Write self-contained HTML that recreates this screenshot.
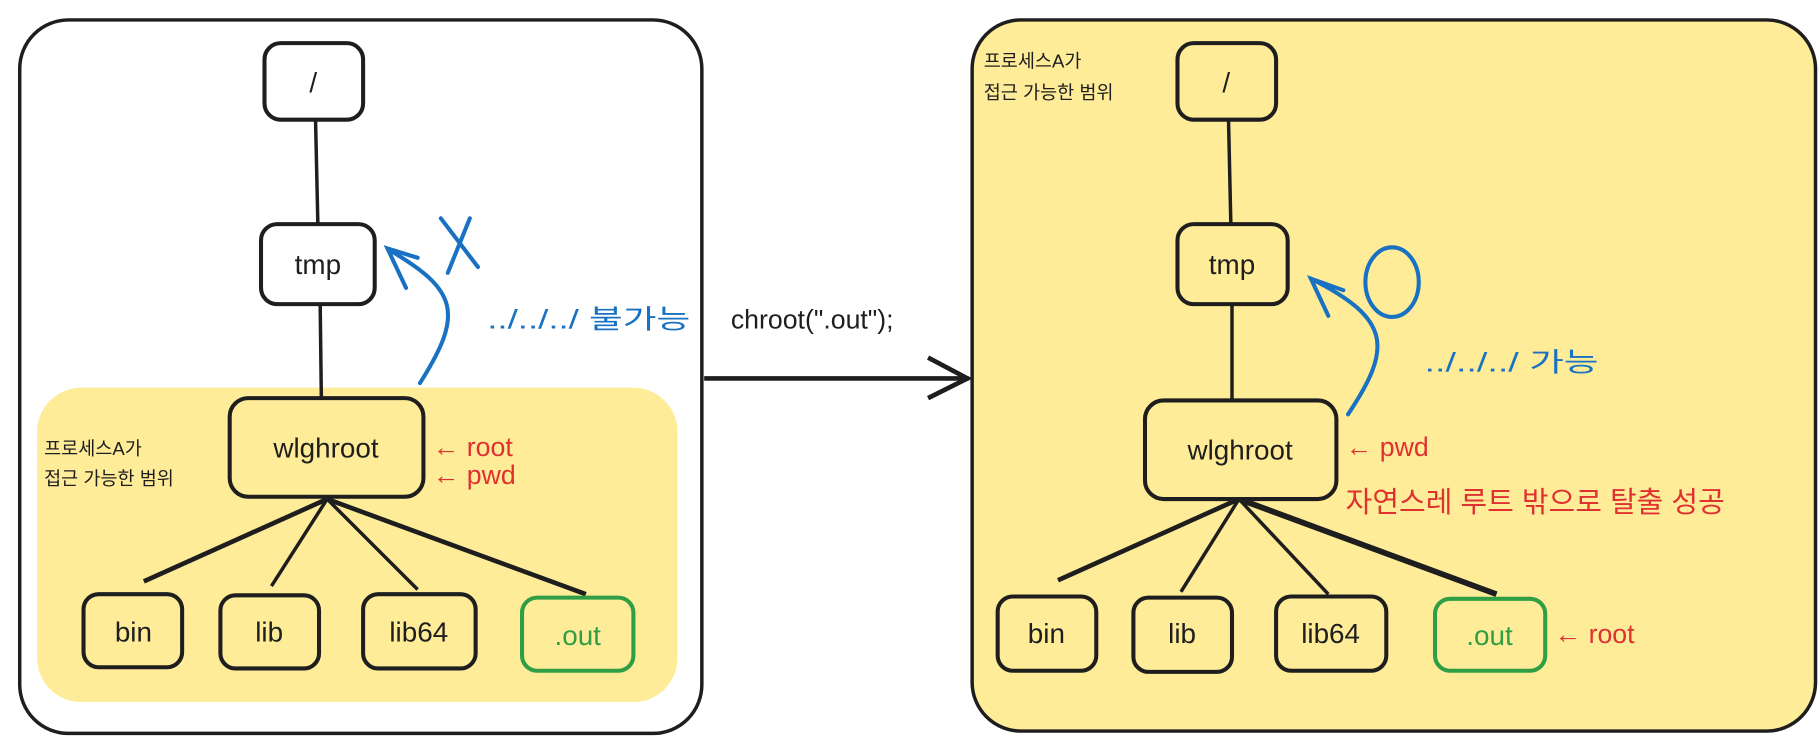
<!DOCTYPE html>
<html><head><meta charset="utf-8"><style>
html,body{margin:0;padding:0;background:#fff;}
svg{display:block;}
text{font-family:"Liberation Sans","Noto Sans CJK KR",sans-serif;}
</style></head><body>
<svg width="1819" height="751" viewBox="0 0 1568 647" xmlns="http://www.w3.org/2000/svg">
<!-- left frame -->
<rect x="17" y="17" width="588" height="615" rx="42" fill="#fff" stroke="#1e1e1e" stroke-width="3"/>
<rect x="32" y="334" width="552" height="271" rx="38" fill="#ffec99"/>
<!-- right frame -->
<rect x="838" y="17" width="727" height="613" rx="42" fill="#ffec99" stroke="#1e1e1e" stroke-width="3"/>

<g stroke="#1e1e1e" fill="none" stroke-width="3">
<line x1="272" y1="103" x2="274" y2="193"/>
<line x1="276" y1="262" x2="277" y2="343"/>
<line x1="282" y1="430" x2="124" y2="501" stroke-width="4"/>
<line x1="282" y1="430" x2="234" y2="505"/>
<line x1="282" y1="430" x2="360" y2="508"/>
<line x1="282" y1="430" x2="505" y2="512" stroke-width="4"/>
<line x1="1059" y1="103" x2="1061" y2="193"/>
<line x1="1062" y1="262" x2="1062" y2="345"/>
<line x1="1068" y1="430" x2="912" y2="500" stroke-width="4"/>
<line x1="1068" y1="430" x2="1018" y2="510"/>
<line x1="1068" y1="430" x2="1145" y2="512"/>
<line x1="1068" y1="430" x2="1290" y2="512" stroke-width="5"/>
<line x1="607" y1="326" x2="835" y2="326" stroke-width="4"/>
<polyline points="800,308 834,326 800,343" stroke-width="4"/>
</g>

<g stroke="#1e1e1e" stroke-width="3.5">
<rect x="228" y="37" width="85" height="66" rx="14" fill="#fff"/>
<rect x="225" y="193" width="98" height="69" rx="14" fill="#fff"/>
<rect x="198" y="343" width="167" height="85" rx="16" fill="#ffec99"/>
<rect x="72" y="512" width="85" height="63" rx="13" fill="#ffec99"/>
<rect x="190" y="513" width="85" height="63" rx="13" fill="#ffec99"/>
<rect x="313" y="512" width="97" height="64" rx="13" fill="#ffec99"/>
<rect x="450" y="515" width="96" height="63" rx="13" fill="#ffec99" stroke="#2f9e44"/>
<rect x="1015" y="37" width="85" height="66" rx="14" fill="#ffec99"/>
<rect x="1015" y="193" width="95" height="69" rx="14" fill="#ffec99"/>
<rect x="987" y="345" width="165" height="85" rx="16" fill="#ffec99"/>
<rect x="860" y="514" width="85" height="64" rx="13" fill="#ffec99"/>
<rect x="977" y="515" width="85" height="64" rx="13" fill="#ffec99"/>
<rect x="1100" y="514" width="95" height="64" rx="13" fill="#ffec99"/>
<rect x="1237" y="516" width="95" height="62" rx="13" fill="#ffec99" stroke="#2f9e44"/>
</g>

<g font-size="24" fill="#1e1e1e" text-anchor="middle">
<text x="270" y="79">/</text>
<text x="274" y="236">tmp</text>
<text x="281" y="394">wlghroot</text>
<text x="115" y="553">bin</text>
<text x="232" y="553">lib</text>
<text x="361" y="553">lib64</text>
<text x="498" y="556" fill="#2f9e44">.out</text>
<text x="1057" y="79">/</text>
<text x="1062" y="236">tmp</text>
<text x="1069" y="396">wlghroot</text>
<text x="902" y="554">bin</text>
<text x="1019" y="554">lib</text>
<text x="1147" y="554">lib64</text>
<text x="1284" y="556" fill="#2f9e44">.out</text>
</g>

<g font-size="16" fill="#1e1e1e">
<text x="38" y="392">프로세스A가</text>
<text x="38" y="418">접근 가능한 범위</text>
<text x="848" y="58">프로세스A가</text>
<text x="848" y="85">접근 가능한 범위</text>
</g>

<text x="630" y="283" font-size="23" fill="#1e1e1e">chroot(".out");</text>

<g fill="#e03131" font-size="23">
<text x="373" y="393">← root</text>
<text x="373" y="417">← pwd</text>
<text x="1160" y="393">← pwd</text>
<text x="1160" y="441" font-size="25">자연스레 루트 밖으로 탈출 성공</text>
<text x="1340" y="554">← root</text>
</g>

<g fill="#1971c2" font-size="23">
<text x="420" y="283" textLength="175" lengthAdjust="spacingAndGlyphs">../../../ 불가능</text>
<text x="1228" y="320" textLength="150" lengthAdjust="spacingAndGlyphs">../../../ 가능</text>
</g>
<g stroke="#1971c2" fill="none" stroke-width="3.5" stroke-linecap="round">
<path d="M362,330 C400,270 395,250 335,215"/>
<polyline points="350,248 334,214 360,222"/>
<line x1="380" y1="188" x2="412" y2="230"/>
<line x1="405" y1="188" x2="386" y2="235"/>
<path d="M1162,357 C1200,300 1200,275 1130,240"/>
<polyline points="1145,272 1130,240 1158,250"/>
<ellipse cx="1200" cy="243" rx="23" ry="30"/>
</g>
</svg>
</body></html>
